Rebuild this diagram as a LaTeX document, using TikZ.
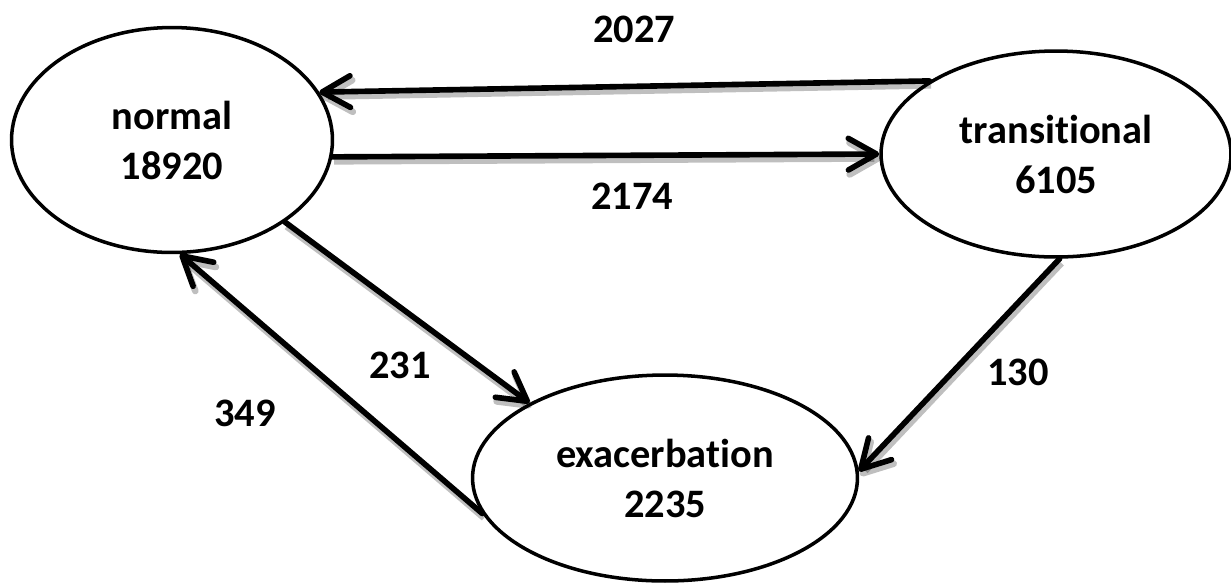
\documentclass[tikz,border=0pt]{standalone}
\usepackage{fontspec}
\setmainfont{Carlito}[RawFeature={-liga;-clig;-dlig;-calt}]
\usetikzlibrary{shapes.geometric,arrows.meta}

\tikzset{
  state/.style={ellipse, draw=black, line width=2pt, inner sep=0pt,
    align=center, font=\bfseries\fontsize{23}{28.5}\selectfont},
  flow/.style={line width=3.2pt, line cap=round,
    -{Straight Barb[length=16pt,width=18pt,line cap=round,line join=round]},
    preaction={draw=black, opacity=0.25, line width=3.8pt,
      transform canvas={xshift=1pt,yshift=-2.5pt}}},
  count/.style={font=\bfseries\fontsize{23}{28.5}\selectfont}
}

\begin{document}
\begin{tikzpicture}[x=0.02cm,y=-0.02cm]

\useasboundingbox (0,0) rectangle (1231,583);

% the three states
\node[state, minimum width=6.42cm, minimum height=4.5cm] (normal) at (172,140) {normal\\18920};
\node[state, minimum width=7cm, minimum height=4.12cm] (trans) at (1056,154) {transitional\\6105};
\node[state, minimum width=7.7cm, minimum height=4.12cm] (exac) at (665,478) {exacerbation\\2235};

% transitions
\draw[flow] (trans.150.8) -- (normal.18);
\draw[flow] (normal.-6) -- (trans.180);
\draw[flow] (normal.-36.7) -- (exac.151);
\draw[flow] (exac.-169.6) -- (normal.-86);
\draw[flow] (trans.-88.3) -- (exac.2.4);

% counts
\node[count] (c2027) at (634,29) {2027};
\node[count] (c2174) at (632,196) {2174};
\node[count] (c231) at (400,365) {231};
\node[count] (c349) at (245,413) {349};
\node[count] (c130) at (1018,372) {130};

\end{tikzpicture}
\end{document}
